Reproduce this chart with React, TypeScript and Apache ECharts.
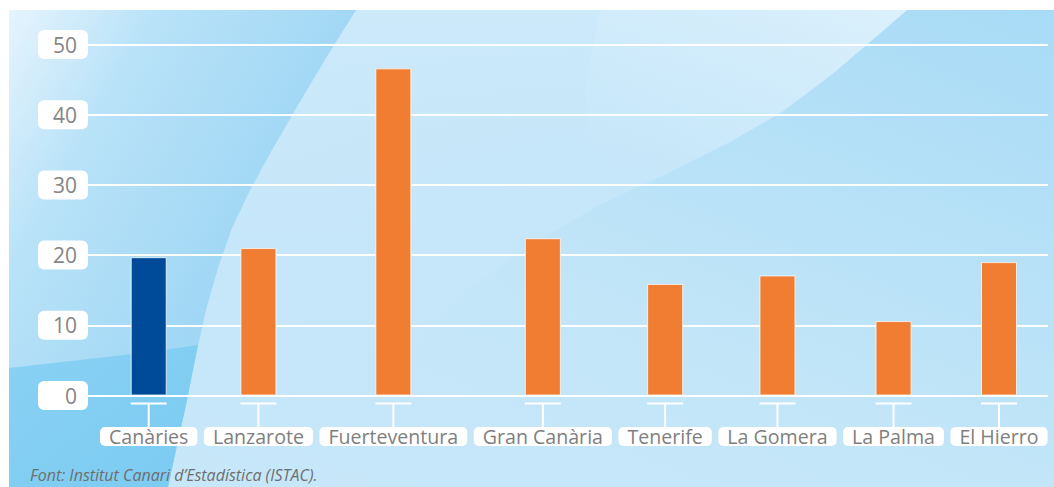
import React, { useEffect, useRef } from "react";
import * as echarts from "echarts";

const categories = ["Canàries", "Lanzarote", "Fuerteventura", "Gran Canària", "Tenerife", "La Gomera", "La Palma", "El Hierro"];
const values = [19.7, 21.0, 46.6, 22.4, 15.9, 17.1, 10.6, 19.0];
const highlightIndex = 0;
const yTicks = [0, 10, 20, 30, 40, 50];
const sourceText = "Font: Institut Canari d\u2019Estadística (ISTAC).";

const W = 1054;
const H = 487;
const GRID_LEFT = 88;
const GRID_RIGHT = 6;
const GRID_TOP = 44.5;
const GRID_BOTTOM = 91.5;
const LABEL_FONT = "19.6px 'Open Sans'";
const LABEL_PAD = 9;
const LABEL_GAP = 6.5;
const LABEL_START = 12;

function slotCenters(): number[] {
  const canvas = document.createElement("canvas");
  const ctx = canvas.getContext("2d")!;
  ctx.font = LABEL_FONT;
  const widths = categories.map((c) => ctx.measureText(c).width + LABEL_PAD * 2);
  const centers: number[] = [];
  let start = LABEL_START;
  widths.forEach((w) => {
    centers.push(start + w / 2);
    start += w + LABEL_GAP;
  });
  return centers;
}

function background(): any[] {
  const leftCurve = [
    [356, 10], [326, 58], [298, 105], [272, 150], [250, 190], [232, 228], [218, 268], [206, 310],
    [196, 355], [186, 405], [176, 450], [168, 487],
  ];
  const arc = [
    [907, 10], [870, 42], [830, 76], [782, 112], [730, 142], [670, 172], [600, 205],
    [530, 245], [460, 295], [400, 360], [350, 440], [330, 487],
  ];
  return [
    {
      type: "rect",
      z: -10,
      silent: true,
      shape: { x: 9, y: 10, width: W - 9, height: H - 10 },
      style: {
        fill: new echarts.graphic.LinearGradient(0.1, 1, 1, 0, [
          { offset: 0, color: "#c8e8f9" },
          { offset: 0.45, color: "#c2e5f8" },
          { offset: 0.75, color: "#b4e0f7" },
          { offset: 1, color: "#a8dbf6" },
        ]),
      },
    },
    {
      type: "polygon",
      z: -9,
      silent: true,
      shape: {
        points: [...arc, ...leftCurve.slice().reverse()],
      },
      style: {
        fill: new echarts.graphic.LinearGradient(0, 0, 0, 1, [
          { offset: 0, color: "rgba(206,234,251,0.95)" },
          { offset: 0.5, color: "rgba(200,232,250,0.6)" },
          { offset: 1, color: "rgba(196,230,249,0.2)" },
        ]),
      },
    },
    {
      type: "polygon",
      z: -8,
      silent: true,
      shape: {
        points: [
          [600, 10], [907, 10], [870, 42], [830, 76], [782, 112], [730, 142], [670, 172], [620, 195],
          [590, 150], [585, 90],
        ],
      },
      style: {
        fill: new echarts.graphic.LinearGradient(1, 0, 0, 0.8, [
          { offset: 0, color: "rgba(232,246,253,0.55)" },
          { offset: 1, color: "rgba(220,240,252,0.0)" },
        ]),
      },
    },
    {
      type: "polygon",
      z: -9,
      silent: true,
      shape: { points: [[9, 10], ...leftCurve, [9, 487]] },
      style: {
        fill: new echarts.graphic.LinearGradient(0, 0, 0.9, 0.7, [
          { offset: 0, color: "#e6f4fd" },
          { offset: 0.3, color: "#b8e2f8" },
          { offset: 0.7, color: "#a2d8f5" },
          { offset: 1, color: "#98d4f4" },
        ]),
      },
    },
    {
      type: "polygon",
      z: -8,
      silent: true,
      shape: {
        points: [[9, 368], [80, 360], [150, 352], [198, 345], [186, 405], [176, 450], [168, 487], [9, 487]],
      },
      style: {
        fill: new echarts.graphic.LinearGradient(0, 0, 1, 1, [
          { offset: 0, color: "#88d1f3" },
          { offset: 1, color: "#7ccbf2" },
        ]),
      },
    },
    {
      type: "text",
      z: 10,
      silent: true,
      x: 30,
      y: 475,
      style: {
        text: sourceText,
        fill: "#6e6e6e",
        font: "italic 16px 'Open Sans'",
        align: "left",
        verticalAlign: "middle",
      },
    },
  ];
}

export default function App() {
  const ref = useRef<HTMLDivElement>(null);

  useEffect(() => {
    if (!ref.current) return;
    const chart = echarts.init(ref.current, undefined, { renderer: "svg" });
    const centers = slotCenters();
    const gridWidth = W - GRID_LEFT - GRID_RIGHT;

    const option: any = {
      animation: false,
      backgroundColor: "transparent",
      graphic: background(),
      grid: { left: GRID_LEFT, right: GRID_RIGHT, top: GRID_TOP, bottom: GRID_BOTTOM, containLabel: false },
      xAxis: {
        type: "value",
        min: 0,
        max: gridWidth,
        show: true,
        axisLine: { show: false },
        axisTick: { show: false },
        axisLabel: { show: false },
        splitLine: { show: false },
      },
      yAxis: {
        type: "value",
        min: yTicks[0],
        max: yTicks[yTicks.length - 1],
        interval: 10,
        z: 2,
        axisLine: { show: false },
        axisTick: { show: false },
        splitLine: { show: true, lineStyle: { color: "#ffffff", width: 2 } },
        axisLabel: {
          margin: 0,
          color: "#858585",
          fontFamily: "'Open Sans'",
          fontSize: 21,
          lineHeight: 23,
          width: 39,
          align: "right",
          backgroundColor: "#ffffff",
          borderRadius: 6,
          padding: [3, 11, 3, 0],
        },
      },
      series: [
        {
          type: "bar",
          z: 3,
          barWidth: 36,
          data: centers.map((c, i) => ({
            value: [c, values[i]],
            itemStyle: {
              color: i === highlightIndex ? "#004b99" : "#f07d32",
              borderColor: "rgba(255,255,255,0.75)",
              borderWidth: 1,
            },
          })),
        },
        {
          type: "custom",
          z: 4,
          silent: true,
          clip: false,
          encode: { x: 0, y: 1 },
          data: centers.map((c, i) => [c, i]),
          renderItem: (params: any, api: any) => {
            const idx = api.value(1);
            const pt = api.coord([api.value(0), 0]);
            const y0 = pt[1] + 8;
            return {
              type: "group",
              children: [
                {
                  type: "line",
                  shape: { x1: pt[0] - 18, y1: y0, x2: pt[0] + 18, y2: y0 },
                  style: { stroke: "#ffffff", lineWidth: 2 },
                },
                {
                  type: "line",
                  shape: { x1: pt[0], y1: y0, x2: pt[0], y2: pt[1] + 32 },
                  style: { stroke: "#ffffff", lineWidth: 2 },
                },
                {
                  type: "text",
                  x: pt[0],
                  y: pt[1] + 31.5,
                  style: {
                    text: categories[idx],
                    align: "center",
                    verticalAlign: "top",
                    fill: "#7f7f7f",
                    font: LABEL_FONT,
                    lineHeight: 19,
                    backgroundColor: "#ffffff",
                    borderRadius: 5,
                    padding: [0, LABEL_PAD],
                  },
                },
              ],
            };
          },
        },
      ],
    };
    chart.setOption(option);
    return () => chart.dispose();
  }, []);

  return (
    <div
      ref={ref}
      style={{ position: "absolute", left: 0, top: 0, width: W, height: H, background: "#ffffff" }}
    />
  );
}
